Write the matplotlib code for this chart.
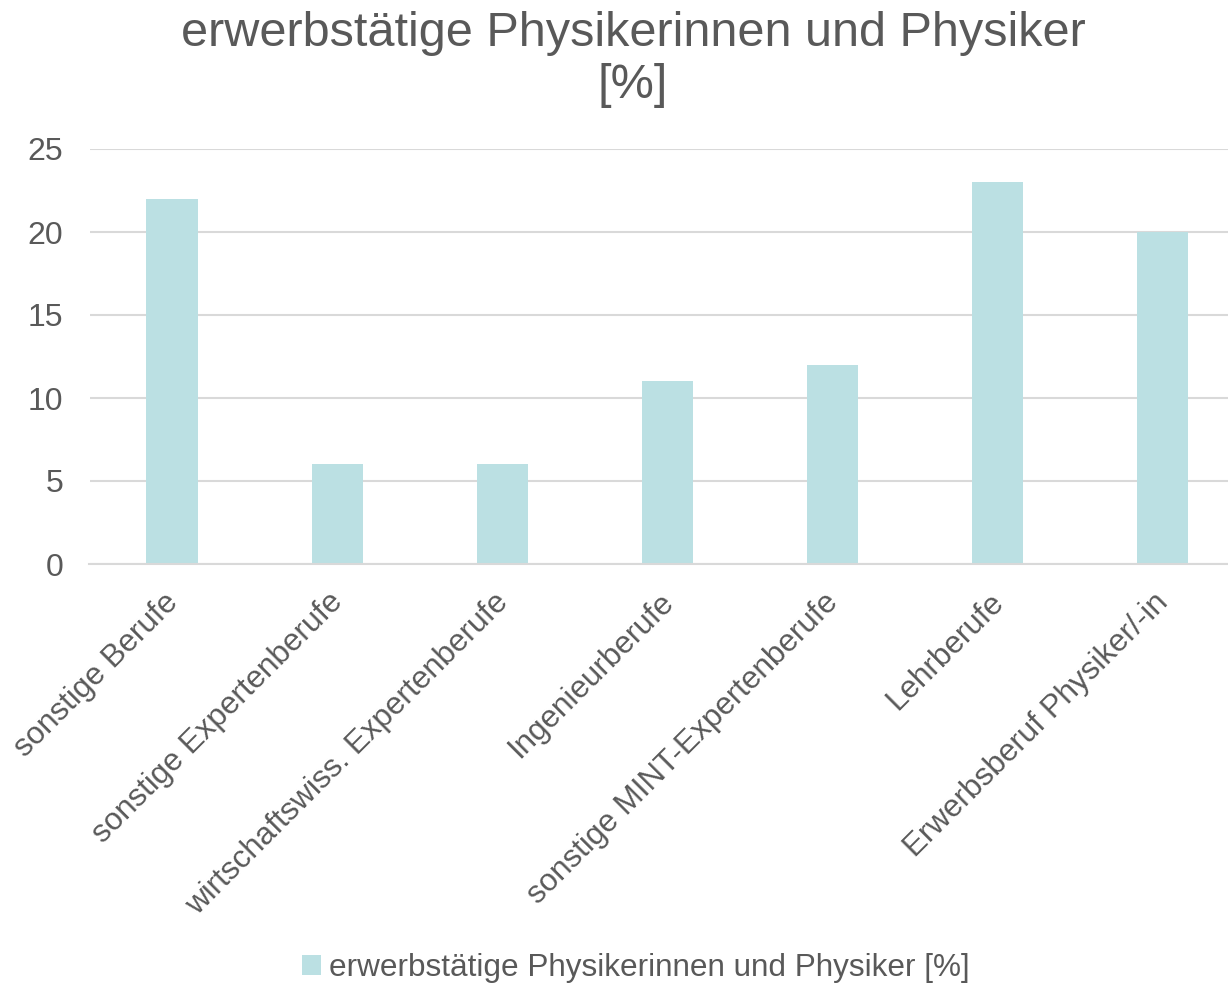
import matplotlib
matplotlib.use("Agg")
import matplotlib.pyplot as plt
from matplotlib.transforms import ScaledTranslation

categories = ["sonstige Berufe", "sonstige Expertenberufe", "wirtschaftswiss. Expertenberufe",
              "Ingenieurberufe", "sonstige MINT-Expertenberufe", "Lehrberufe",
              "Erwerbsberuf Physiker/-in"]
values = [22, 6, 6, 11, 12, 23, 20]
series_name = "erwerbstätige Physikerinnen und Physiker [%]"
title = "erwerbstätige Physikerinnen und Physiker\n[%]"

plt.rcParams['font.family'] = ['Liberation Sans', 'DejaVu Sans']
txt = '#595959'
bar_color = '#BBE0E3'
grid_color = '#D9D9D9'

fig = plt.figure(figsize=(12.28, 9.85), dpi=100)
W, H = 1228, 985
left, right = 89.5, 1245
top, bottom = 149, 564
ax = fig.add_axes([left / W, 1 - bottom / H, (right - left) / W, (bottom - top) / H])

x = list(range(len(categories)))
ax.bar(x, values, width=0.31, color=bar_color, label=series_name, zorder=2)
ax.set_xlim(-0.5, len(categories) - 0.5)
ax.set_ylim(0, 25)
ax.set_yticks([0, 5, 10, 15, 20, 25])
ax.yaxis.grid(True, color=grid_color, linewidth=1.5, zorder=0)
ax.set_axisbelow(True)
for s in ['top', 'right', 'left']:
    ax.spines[s].set_visible(False)
ax.spines['bottom'].set_color(grid_color)
ax.spines['bottom'].set_linewidth(1.5)
ax.tick_params(axis='both', length=0, colors=txt)
ax.tick_params(axis='y', pad=19, labelsize=23)
ax.set_xticks(x)
ax.set_xticklabels(categories, rotation=45, ha='right', rotation_mode='anchor', fontsize=22.6, color=txt)
ax.tick_params(axis='x', pad=18)
offset = ScaledTranslation(-9 / 100, 2 / 100, fig.dpi_scale_trans)
for lab in ax.get_xticklabels():
    lab.set_transform(lab.get_transform() + offset)
for lab in ax.get_yticklabels():
    lab.set_color(txt)

fig.text(633 / W, 1 - 60 / H, title, ha='center', va='center', fontsize=35, color=txt, linespacing=1.2)

leg = fig.legend(loc='center', bbox_to_anchor=(636 / W, 1 - 968 / H), frameon=False,
                 fontsize=22.7, handlelength=0.6, handleheight=0.6, handletextpad=0.25)
for t in leg.get_texts():
    t.set_color(txt)

fig.savefig("out.png", dpi=100)
